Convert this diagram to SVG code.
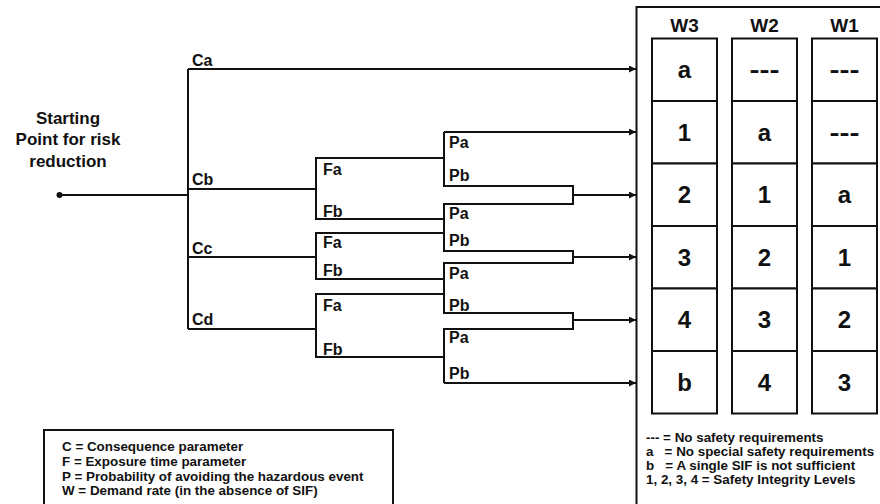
<svg xmlns="http://www.w3.org/2000/svg" width="880" height="504" viewBox="0 0 880 504">
<defs>
<marker id="arr" markerUnits="userSpaceOnUse" markerWidth="8" markerHeight="8" refX="7" refY="3.5" orient="auto">
<path d="M0,0 L7,3.5 L0,7 z" fill="#111"/>
</marker>
<style>
text{font-family:"Liberation Sans",Arial,sans-serif;font-weight:bold;fill:#111}
.ln{fill:none;stroke:#111;stroke-width:2}
.lb{font-size:16px}
.st{font-size:17px;text-anchor:middle}
.hd{font-size:19px;text-anchor:middle}
.cv{font-size:24px;text-anchor:middle}
.cell{fill:#fff;stroke:#111;stroke-width:2}
.lg{font-size:13.4px;white-space:pre}
.box{fill:#fff;stroke:#111;stroke-width:2}
</style>
</defs>
<rect width="880" height="504" fill="#fff"/>

<g id="connectors">
<path class="ln" d="M59,195 H188"/>
<path class="ln" d="M188,69 V329"/>
<path class="ln" d="M188,69 H636" marker-end="url(#arr)"/>
<path class="ln" d="M188,189 H316"/>
<path class="ln" d="M188,257 H316"/>
<path class="ln" d="M188,329 H316"/>
<path class="ln" d="M444,158 H316 V219 H444"/>
<path class="ln" d="M444,233 H316 V279 H444"/>
<path class="ln" d="M444,294 H316 V357 H444"/>
<path class="ln" d="M444,132 V186 H573"/>
<path class="ln" d="M444,132 H636" marker-end="url(#arr)"/>
<path class="ln" d="M573,204 H444 V251 H573"/>
<path class="ln" d="M573,263 H444 V313 H573"/>
<path class="ln" d="M573,329 H444 V383"/>
<path class="ln" d="M444,383 H636" marker-end="url(#arr)"/>
<path class="ln" d="M573,185 V205"/>
<path class="ln" d="M573,250 V264"/>
<path class="ln" d="M573,312 V330"/>
<path class="ln" d="M573,195 H636" marker-end="url(#arr)"/>
<path class="ln" d="M573,257 H636" marker-end="url(#arr)"/>
<path class="ln" d="M573,320 H636" marker-end="url(#arr)"/>
</g>

<g id="start">
<circle cx="59.5" cy="195" r="3" fill="#111"/>
<text class="st" x="68" y="124">Starting</text>
<text class="st" x="68" y="145">Point for risk</text>
<text class="st" x="68" y="166.5">reduction</text>
</g>

<g id="c-labels">
<text class="lb" x="192" y="66">Ca</text>
<text class="lb" x="192" y="185">Cb</text>
<text class="lb" x="192" y="254">Cc</text>
<text class="lb" x="192" y="325">Cd</text>
</g>

<g id="f-labels">
<text class="lb" x="323" y="175">Fa</text>
<text class="lb" x="323" y="217">Fb</text>
<text class="lb" x="323" y="248">Fa</text>
<text class="lb" x="323" y="276">Fb</text>
<text class="lb" x="323" y="311">Fa</text>
<text class="lb" x="323" y="355">Fb</text>
</g>

<g id="p-labels">
<text class="lb" x="449" y="148">Pa</text>
<text class="lb" x="449" y="181">Pb</text>
<text class="lb" x="449" y="219">Pa</text>
<text class="lb" x="449" y="246">Pb</text>
<text class="lb" x="449" y="279">Pa</text>
<text class="lb" x="449" y="311">Pb</text>
<text class="lb" x="449" y="343">Pa</text>
<text class="lb" x="449" y="379">Pb</text>
</g>

<g id="table">
<rect class="box" x="636.5" y="7" width="270" height="520"/>
<text class="hd" x="684.5" y="32">W3</text>
<text class="hd" x="764.5" y="32">W2</text>
<text class="hd" x="844.5" y="32">W1</text>
<g id="col-w3">
<rect class="cell" x="652" y="38.5" width="65" height="62.5"/>
<rect class="cell" x="652" y="101" width="65" height="62.5"/>
<rect class="cell" x="652" y="163.5" width="65" height="62.5"/>
<rect class="cell" x="652" y="226" width="65" height="62.5"/>
<rect class="cell" x="652" y="288.5" width="65" height="62.5"/>
<rect class="cell" x="652" y="351" width="65" height="62.5"/>
<text class="cv" x="684.5" y="78">a</text>
<text class="cv" x="684.5" y="140.5">1</text>
<text class="cv" x="684.5" y="203">2</text>
<text class="cv" x="684.5" y="265.5">3</text>
<text class="cv" x="684.5" y="328">4</text>
<text class="cv" x="684.5" y="390.5">b</text>
</g>
<g id="col-w2">
<rect class="cell" x="732" y="38.5" width="65" height="62.5"/>
<rect class="cell" x="732" y="101" width="65" height="62.5"/>
<rect class="cell" x="732" y="163.5" width="65" height="62.5"/>
<rect class="cell" x="732" y="226" width="65" height="62.5"/>
<rect class="cell" x="732" y="288.5" width="65" height="62.5"/>
<rect class="cell" x="732" y="351" width="65" height="62.5"/>
<text class="cv" x="764.5" y="78" textLength="30" lengthAdjust="spacingAndGlyphs">---</text>
<text class="cv" x="764.5" y="140.5">a</text>
<text class="cv" x="764.5" y="203">1</text>
<text class="cv" x="764.5" y="265.5">2</text>
<text class="cv" x="764.5" y="328">3</text>
<text class="cv" x="764.5" y="390.5">4</text>
</g>
<g id="col-w1">
<rect class="cell" x="812" y="38.5" width="65" height="62.5"/>
<rect class="cell" x="812" y="101" width="65" height="62.5"/>
<rect class="cell" x="812" y="163.5" width="65" height="62.5"/>
<rect class="cell" x="812" y="226" width="65" height="62.5"/>
<rect class="cell" x="812" y="288.5" width="65" height="62.5"/>
<rect class="cell" x="812" y="351" width="65" height="62.5"/>
<text class="cv" x="844.5" y="78" textLength="30" lengthAdjust="spacingAndGlyphs">---</text>
<text class="cv" x="844.5" y="140.5" textLength="30" lengthAdjust="spacingAndGlyphs">---</text>
<text class="cv" x="844.5" y="203">a</text>
<text class="cv" x="844.5" y="265.5">1</text>
<text class="cv" x="844.5" y="328">2</text>
<text class="cv" x="844.5" y="390.5">3</text>
</g>
<g id="table-legend">
<text class="lg" x="646" y="442">--- = No safety requirements</text>
<text class="lg" x="646" y="456">a   = No special safety requirements</text>
<text class="lg" x="646" y="470">b   = A single SIF is not sufficient</text>
<text class="lg" x="646" y="484">1, 2, 3, 4 = Safety Integrity Levels</text>
</g>
</g>

<g id="legend">
<rect class="box" x="44" y="430" width="349" height="90"/>
<text class="lg" x="62" y="451">C = Consequence parameter</text>
<text class="lg" x="62" y="466">F = Exposure time parameter</text>
<text class="lg" x="62" y="481">P = Probability of avoiding the hazardous event</text>
<text class="lg" x="62" y="495">W = Demand rate (in the absence of SIF)</text>
</g>
</svg>
